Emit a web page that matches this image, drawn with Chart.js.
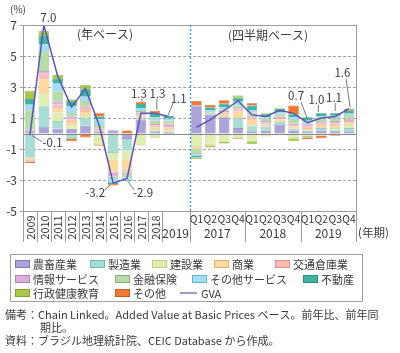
<!DOCTYPE html>
<html>
<head>
<meta charset="utf-8">
<script src="https://cdn.jsdelivr.net/npm/chart.js@4.4.1/dist/chart.umd.min.js"></script>
<style>
html,body{margin:0;padding:0;background:#fff;}
#wrap{width:400px;height:353px;position:relative;}
</style>
</head>
<body>
<div id="wrap"><canvas id="c" width="400" height="353"></canvas></div>
<script>
// ---------------- data ----------------
const annualYears = ['2009','2010','2011','2012','2013','2014','2015','2016','2017','2018','2019'];
const quarterNames = ['Q1','Q2','Q3','Q4','Q1','Q2','Q3','Q4','Q1','Q2','Q3','Q4'];
const quarterYears = ['2017','2018','2019'];
const yTicks = [-5, -3, -1, 1, 3, 5, 7];
const sectorNames = ['農畜産業','製造業','建設業','商業','交通倉庫業','情報サービス','金融保険','その他サービス','不動産','行政健康教育','その他'];

// contributions (% pt): 11 annual values (2009-2019) then 12 quarterly (2017Q1-2019Q4)
const agriculture   = [0.15, 0.4, 0.3, 0.3, 0.5, 0.1, 0.2, -0.35, 0.9, 0.1, 0.08,   1.8, 1.2, 1.05, 0.35, 0.15, 0.2, 0.55, 0.2, 0.1, 0.2, 0.15, 0.15];
const manufacturing = [-1.55, 1.39, 0.5, -0.35, 0.5, -0.1, -1.25, -0.75, 0.1, 0.1, 0.05,   -0.05, 0, 0, 0.65, 0.35, 0.25, 0.2, 0.1, 0.1, 0.15, 0.1, 0.2];
const construction  = [0, 0.75, 0.55, 0.25, 0.2, -0.5, -0.45, -0.6, -0.75, -0.2, 0.1,   -0.8, -0.65, -0.55, -0.3, -0.5, -0.2, -0.1, -0.3, -0.15, -0.15, 0.1, 0.2];
const commerce      = [-0.15, 0.96, 0.3, 0.25, 0.25, -0.2, -0.75, -0.7, 0.15, 0.21, 0.15,   -0.1, -0.1, 0.2, 0.4, 0.45, 0.15, 0.15, 0.15, 0.15, 0.2, 0.2, 0.15];
const transport     = [-0.1, 0.36, 0.21, 0.1, 0.2, 0.1, -0.1, -0.1, 0.1, 0.1, 0.1,   -0.05, 0, 0.1, 0.15, 0.1, 0.1, 0.1, 0.1, 0.1, 0.1, 0.1, 0.1];
const infoServices  = [0.1, 0.17, 0.21, 0.2, 0.1, 0.1, -0.2, -0.12, 0.1, 0.1, 0.15,   0, 0.05, 0.1, 0.1, 0.1, 0.1, 0.1, 0.1, 0.15, 0.1, 0.15, 0.15];
const finance       = [1.25, 1.28, 0.64, 0.2, 0.35, 0.25, -0.1, -0.2, 0.1, 0.21, 0.2,   -0.3, 0.1, 0.1, 0.15, 0.2, 0.15, 0.15, 0.2, 0.1, 0.2, 0.2, 0.25];
const otherServices = [0.4, 0.43, 0.53, 0.45, 0.3, 0.35, -0.3, -0.2, 0.2, 0.21, 0.15,   -0.15, 0.15, 0.15, 0.25, 0.15, 0.1, 0.1, 0.2, 0.15, 0.15, 0.15, 0.1];
const realEstate    = [0.32, 0.55, 0.28, 0.35, 0.45, 0.2, -0.1, -0.05, 0.25, 0.28, 0.17,   -0.1, 0.2, 0.22, 0.25, 0.3, 0.2, 0.25, 0.2, 0.2, 0.2, 0.15, 0.2];
const publicAdmin   = [0.53, 0.3, 0.26, 0.1, 0.3, 0, 0.05, 0, 0, -0.05, 0,   -0.1, -0.15, -0.1, 0.15, -0.2, 0.05, 0.05, -0.2, -0.1, 0, -0.1, 0];
const others        = [-0.1, 0, 0, -0.15, -0.25, 0.2, -0.1, 0.2, 0.15, 0.15, -0.05,   0.3, 0.15, 0.23, -0.05, 0.15, 0, 0, 0.55, -0.1, -0.15, -0.05, 0.1];
const gvaAnnual     = [-0.1, 7.0, 3.7, 1.7, 2.9, 0.5, -3.2, -2.9, 1.3, 1.3, 1.1];
const gvaQuarterly  = [0.4, 0.9, 1.5, 2.1, 1.2, 1.1, 1.5, 1.3, 0.7, 1.0, 1.1, 1.6];
const labelledAnnual = ['2009','2010','2015','2016','2017','2018','2019'];
const labelledQuarter = [8, 9, 10, 11]; // 2019 Q1-Q4

const notes = [
  '備考：Chain Linked。Added Value at Basic Prices ベース。前年比、前年同',
  '期比。',
  '資料：ブラジル地理統計院、CEIC Database から作成。'
];

// ---------------- styling ----------------
const FONT = '"Noto Sans CJK JP", "Noto Sans", sans-serif';
const TXT = '#3a3a3a';
const fills   = ['#aca4d8','#a9ddd4','#e0eeb2','#fdd8a0','#f6bdb4','#dcb0dc','#b8dca8','#a8dcf2','#3fb39e','#a6c94c','#f07a35'];
const borders = ['#8078b8','#72b9ae','#b9cc84','#deb070','#dc8f88','#b080b0','#85b274','#62b2d8','#23907c','#80a232','#d05a20'];
const GVA_COLOR = '#5a55b2';

const sectorData = [agriculture, manufacturing, construction, commerce, transport, infoServices, finance, otherServices, realEstate, publicAdmin, others];
const GAP = 11;
const withGap = arr => [...arr.slice(0, GAP), null, ...arr.slice(GAP)];
const categories = [...annualYears, '', ...quarterNames.map((q, i) => quarterYears[Math.floor(i / 4)] + q)];
const gva = withGap([...gvaAnnual, ...gvaQuarterly]);

Chart.defaults.font.family = FONT;

const datasets = [{
  type: 'line', label: 'GVA', data: gva, order: 0, stack: 'gva',
  borderColor: GVA_COLOR, borderWidth: 1.5, pointRadius: 0, tension: 0, spanGaps: false, fill: false
}];
sectorData.forEach((arr, k) => {
  datasets.push({
    type: 'bar', label: sectorNames[k], order: 1, stack: 's',
    data: withGap(arr).map(v => (v === 0 ? null : v)),
    backgroundColor: fills[k], borderColor: borders[k], borderWidth: 0.6,
    barPercentage: 0.76, categoryPercentage: 1.0
  });
});

// label placement relative to the GVA point: text centre offset and leader line
const annot = {
  0:  {t: [22.6, 7.5],  l: [2, 0.5, 12, 6.5]},
  1:  {t: [4.5, -7.5]},
  6:  {t: [-18, 10],    l: [-9, 7, -3, 2]},
  7:  {t: [16, 14.5],   l: [7, 11.5, 0.5, 2.5]},
  8:  {t: [-2, -20],    l: [1, -14.5, 1, -11.5]},
  9:  {t: [2.7, -20],   l: [2, -14.5, 2, -3.5]},
  10: {t: [10, -18],    l: [4.5, -13.5, -0.5, -1.5]},
  20: {t: [-11.4, -26.6], l: [-6.4, -20.6, -0.4, -4.6]},
  21: {t: [-4.8, -18],  l: [-3, -13, -3, -6]},
  22: {t: [-1.2, -18.5], l: [0, -13.5, 0, -5.5]},
  23: {t: [-6.6, -35.7], l: [-3, -29.7, 1, -1.7]}
};

function line(ctx, x1, y1, x2, y2) { ctx.beginPath(); ctx.moveTo(x1, y1); ctx.lineTo(x2, y2); ctx.stroke(); }

const deco = {
  id: 'deco',
  beforeDatasetsDraw(chart) {
    const {ctx, chartArea: a, scales: {y}} = chart;
    ctx.save();
    ctx.strokeStyle = '#a4a4a4'; ctx.lineWidth = 1; ctx.setLineDash([3, 2]);
    yTicks.forEach(v => {
      if (v === yTicks[0] || v === yTicks[yTicks.length - 1]) return;
      const py = Math.round(y.getPixelForValue(v)) + 0.5;
      line(ctx, a.left, py, a.right, py);
    });
    ctx.restore();
  },
  afterDatasetDraw(chart, args) {
    if (args.index !== 1) return;
    const {ctx, chartArea: a, scales: {x, y}} = chart;
    ctx.save();
    // zero line
    ctx.strokeStyle = '#858585'; ctx.lineWidth = 1;
    const z = Math.round(y.getPixelForValue(0)) + 0.5;
    line(ctx, a.left, z, a.right, z);
    ctx.restore();
  },
  afterDraw(chart) {
    const {ctx, chartArea: a, scales: {x, y}} = chart;
    const w = x.getPixelForValue(1) - x.getPixelForValue(0);
    const bound = i => x.getPixelForValue(i) - w / 2;
    ctx.save();
    // frame
    ctx.strokeStyle = '#9c9c9c'; ctx.lineWidth = 1;
    ctx.strokeRect(Math.round(a.left) + 0.5, Math.round(a.top) + 0.5, Math.round(a.right - a.left), Math.round(a.bottom - a.top));
    // y tick marks
    yTicks.forEach(v => {
      const py = Math.round(y.getPixelForValue(v)) + 0.5;
      line(ctx, a.left - 3, py, a.left, py);
    });
    // divider annual / quarterly
    ctx.strokeStyle = '#3d9bd8'; ctx.lineWidth = 1.3; ctx.setLineDash([2, 2]);
    const dx = Math.round(bound(GAP + 1)) + 0.5;
    line(ctx, dx, a.top, dx, a.bottom);
    ctx.setLineDash([]);
    // category separators below axis
    ctx.strokeStyle = '#9c9c9c'; ctx.lineWidth = 1;
    const seps = [];
    for (let i = 0; i <= 10; i++) seps.push(bound(i));
    seps.push(bound(12), bound(16), bound(20), a.right);
    seps.forEach(sx => { const px = Math.round(sx) + 0.5; line(ctx, px, a.bottom, px, a.bottom + 31); });

    ctx.fillStyle = TXT;
    // rotated annual labels
    ctx.font = '11px ' + FONT; ctx.textAlign = 'center'; ctx.textBaseline = 'middle';
    for (let i = 0; i < 10; i++) {
      ctx.save(); ctx.translate(x.getPixelForValue(i) + 0.5, a.bottom + 16.5); ctx.rotate(-Math.PI / 2);
      ctx.fillText(annualYears[i], 0, 0); ctx.restore();
    }
    ctx.font = '12px ' + FONT;
    ctx.fillText(annualYears[10], (bound(10) + bound(12)) / 2, a.bottom + 22);
    // quarter labels
    ctx.font = '11px ' + FONT;
    quarterNames.forEach((q, j) => ctx.fillText(q, x.getPixelForValue(12 + j), a.bottom + 7.5, 13.5));
    ctx.font = '12px ' + FONT;
    quarterYears.forEach((yy, k) => {
      const l = bound(12 + 4 * k), r = k === 2 ? a.right : bound(16 + 4 * k);
      ctx.fillText(yy, (l + r) / 2, a.bottom + 22);
    });
    ctx.textAlign = 'left'; ctx.font = '11.5px ' + FONT;
    ctx.fillText('(年期)', a.right + 2, a.bottom + 22);
    // unit & section titles
    ctx.font = '10px ' + FONT; ctx.textAlign = 'center';
    ctx.fillText('(%)', 18, 9);
    ctx.font = '12px ' + FONT;
    ctx.fillText('(年ベース)', 105, 34);
    ctx.fillText('(四半期ベース)', 268, 35);

    // GVA value labels
    ctx.font = '11.5px ' + FONT;
    ctx.strokeStyle = '#555'; ctx.lineWidth = 0.8;
    Object.keys(annot).forEach(key => {
      const i = +key; const v = gva[i];
      if (v == null) return;
      const px = x.getPixelForValue(i), py = y.getPixelForValue(v);
      const o = annot[key];
      ctx.fillText(v.toFixed(1), px + o.t[0], py + o.t[1]);
      if (o.l) line(ctx, px + o.l[0], py + o.l[1], px + o.l[2], py + o.l[3]);
    });

    // legend
    ctx.strokeStyle = '#a0a0a0'; ctx.lineWidth = 1;
    ctx.strokeRect(10.5, 254.5, 352, 47);
    const legPos = [[15,0],[90,0],[152,0],[214,0],[275,0],[15,1],[115,1],[192,1],[303,1],[15,2],[115,2]];
    const rowY = [264, 279, 293];
    ctx.font = '11px ' + FONT; ctx.textAlign = 'left'; ctx.textBaseline = 'middle';
    sectorNames.forEach((name, k) => {
      const [lx, r] = legPos[k]; const yc = rowY[r];
      ctx.fillStyle = fills[k]; ctx.fillRect(lx, yc - 4, 15, 8);
      ctx.strokeStyle = borders[k]; ctx.lineWidth = 1; ctx.strokeRect(lx + 0.5, yc - 3.5, 14, 7);
      ctx.fillStyle = TXT; ctx.fillText(name, lx + 18, yc + 0.5);
    });
    ctx.strokeStyle = GVA_COLOR; ctx.lineWidth = 1.2;
    line(ctx, 180, rowY[2], 197, rowY[2]);
    ctx.fillStyle = TXT; ctx.fillText('GVA', 201, rowY[2] + 0.5);

    // notes
    ctx.font = '11px ' + FONT;
    ctx.fillText(notes[0], 5, 315, 392);
    ctx.fillText(notes[1], 40, 328);
    ctx.fillText(notes[2], 5, 341);
    ctx.restore();
  }
};

new Chart(document.getElementById('c'), {
  data: {labels: categories, datasets: datasets},
  options: {
    responsive: false, animation: false,
    layout: {padding: {top: 25, right: 44, bottom: 142, left: 0}},
    plugins: {legend: {display: false}, tooltip: {enabled: false}},
    scales: {
      x: {type: 'category', stacked: true, display: false, offset: true},
      y: {
        stacked: true, min: -5, max: 7,
        afterFit: s => { s.width = 23; },
        grid: {display: false, drawTicks: false},
        border: {display: false},
        ticks: {stepSize: 2, color: TXT, padding: 6, font: {size: 12, family: FONT}}
      }
    }
  },
  plugins: [deco]
});
</script>
</body>
</html>
